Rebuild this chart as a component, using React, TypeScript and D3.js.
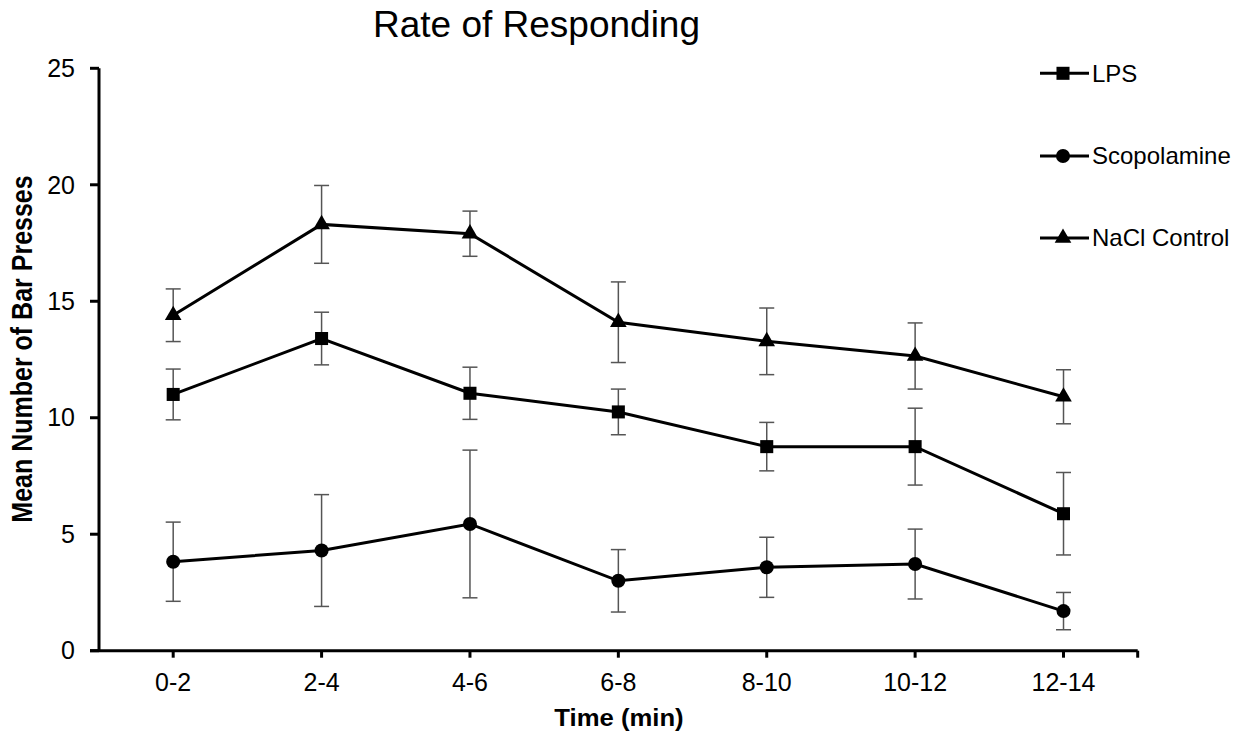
import React, { useEffect, useRef } from "react";
import * as d3 from "d3";

const categories = ["0-2", "2-4", "4-6", "6-8", "8-10", "10-12", "12-14"];
const seriesNames = ["LPS", "Scopolamine", "NaCl Control"];
const lpsMean = [11.0, 13.4, 11.05, 10.25, 8.76, 8.76, 5.88];
const lpsErr = [1.09, 1.13, 1.12, 0.98, 1.04, 1.65, 1.77];
const scopMean = [3.82, 4.3, 5.44, 3.0, 3.58, 3.72, 1.7];
const scopErr = [1.7, 2.4, 3.17, 1.34, 1.29, 1.5, 0.8];
const naclMean = [14.4, 18.3, 17.9, 14.1, 13.28, 12.65, 10.9];
const naclErr = [1.13, 1.67, 0.97, 1.73, 1.43, 1.42, 1.16];
const yTicks = [0, 5, 10, 15, 20, 25];

const FONT = "Liberation Sans, Arial, sans-serif";

const App = () => {
  const ref = useRef<SVGSVGElement>(null);

  useEffect(() => {
    const svg = d3.select(ref.current);
    svg.selectAll("*").remove();

    const x = d3.scaleBand().domain(categories).range([99, 1137.7]);
    const y = d3.scaleLinear().domain([0, 25]).range([650.7, 68.3]);
    const cx = (c: string) => (x(c) as number) + x.bandwidth() / 2;

    // title
    svg.append("text")
      .attr("x", 536.5).attr("y", 37)
      .attr("text-anchor", "middle")
      .style("font-family", FONT).style("font-size", "37px")
      .text("Rate of Responding");

    // y axis
    const yAxis = svg.append("g");
    yAxis.append("line")
      .attr("x1", 99).attr("x2", 99)
      .attr("y1", y(25)).attr("y2", y(0))
      .attr("stroke", "#000").attr("stroke-width", 3);
    yAxis.selectAll("line.tick").data(yTicks).enter().append("line")
      .attr("class", "tick")
      .attr("x1", 90).attr("x2", 99)
      .attr("y1", d => y(d)).attr("y2", d => y(d))
      .attr("stroke", "#000").attr("stroke-width", 3);
    yAxis.selectAll("text").data(yTicks).enter().append("text")
      .attr("x", 75).attr("y", d => y(d))
      .attr("dy", "0.35em")
      .attr("text-anchor", "end")
      .style("font-family", FONT).style("font-size", "25px")
      .text(d => d);

    // x axis
    const xAxis = svg.append("g");
    xAxis.append("line")
      .attr("x1", 90).attr("x2", 1137.7)
      .attr("y1", y(0)).attr("y2", y(0))
      .attr("stroke", "#000").attr("stroke-width", 3);
    const xTickPos = categories.map(cx).concat([1137.7]);
    xAxis.selectAll("line.tick").data(xTickPos).enter().append("line")
      .attr("class", "tick")
      .attr("x1", d => d).attr("x2", d => d)
      .attr("y1", y(0)).attr("y2", y(0) + 7)
      .attr("stroke", "#000").attr("stroke-width", 3);
    xAxis.selectAll("text").data(categories).enter().append("text")
      .attr("x", d => cx(d)).attr("y", 691)
      .attr("text-anchor", "middle")
      .style("font-family", FONT).style("font-size", "25px")
      .text(d => d);

    // axis titles (slightly stretched horizontally, as in the original)
    svg.append("text")
      .attr("transform", "translate(619, 726) scale(1.07, 1)")
      .attr("text-anchor", "middle")
      .style("font-family", FONT).style("font-size", "24px").style("font-weight", "bold")
      .text("Time (min)");
    svg.append("text")
      .attr("transform", "translate(31.5, 349) scale(1.2, 1) rotate(-90)")
      .attr("text-anchor", "middle")
      .style("font-family", FONT).style("font-size", "25px").style("font-weight", "bold")
      .text("Mean Number of Bar Presses");

    const series = [
      { name: seriesNames[0], mean: lpsMean, err: lpsErr, shape: d3.symbolSquare, size: 170 },
      { name: seriesNames[1], mean: scopMean, err: scopErr, shape: d3.symbolCircle, size: 155 },
      { name: seriesNames[2], mean: naclMean, err: naclErr, shape: d3.symbolTriangle, size: 120 },
    ];

    const line = d3.line<number>()
      .x((d, i) => cx(categories[i]))
      .y(d => y(d));

    series.forEach(s => {
      const g = svg.append("g");
      // error bars
      const eb = g.selectAll("g.err").data(s.mean).enter().append("g").attr("class", "err");
      eb.append("line")
        .attr("x1", (d, i) => cx(categories[i])).attr("x2", (d, i) => cx(categories[i]))
        .attr("y1", (d, i) => y(d + s.err[i])).attr("y2", (d, i) => y(d - s.err[i]))
        .attr("stroke", "#555").attr("stroke-width", 1.5);
      [1, -1].forEach(sign => {
        eb.append("line")
          .attr("x1", (d, i) => cx(categories[i]) - 7.5).attr("x2", (d, i) => cx(categories[i]) + 7.5)
          .attr("y1", (d, i) => y(d + sign * s.err[i])).attr("y2", (d, i) => y(d + sign * s.err[i]))
          .attr("stroke", "#555").attr("stroke-width", 1.5);
      });
      g.append("path")
        .datum(s.mean)
        .attr("d", line)
        .attr("fill", "none")
        .attr("stroke", "#000").attr("stroke-width", 3);
      g.selectAll("path.pt").data(s.mean).enter().append("path")
        .attr("class", "pt")
        .attr("transform", (d, i) => `translate(${cx(categories[i])},${y(d)})`)
        .attr("d", d3.symbol().type(s.shape).size(s.size)())
        .attr("fill", "#000");
    });

    // legend
    const legendY = [73.3, 156, 238];
    series.forEach((s, i) => {
      const lg = svg.append("g").attr("transform", `translate(0, ${legendY[i]})`);
      lg.append("line")
        .attr("x1", 1040).attr("x2", 1089).attr("y1", 0).attr("y2", 0)
        .attr("stroke", "#000").attr("stroke-width", 3);
      lg.append("path")
        .attr("transform", "translate(1063,0)")
        .attr("d", d3.symbol().type(s.shape).size(s.size)())
        .attr("fill", "#000");
      lg.append("text")
        .attr("x", 1092).attr("y", 0).attr("dy", "0.35em")
        .style("font-family", FONT).style("font-size", "24px")
        .text(s.name);
    });
  }, []);

  return (
    <svg ref={ref} width={1244} height={740}
      style={{ position: "absolute", left: 0, top: 0, background: "#fff" }} />
  );
};

export default App;
